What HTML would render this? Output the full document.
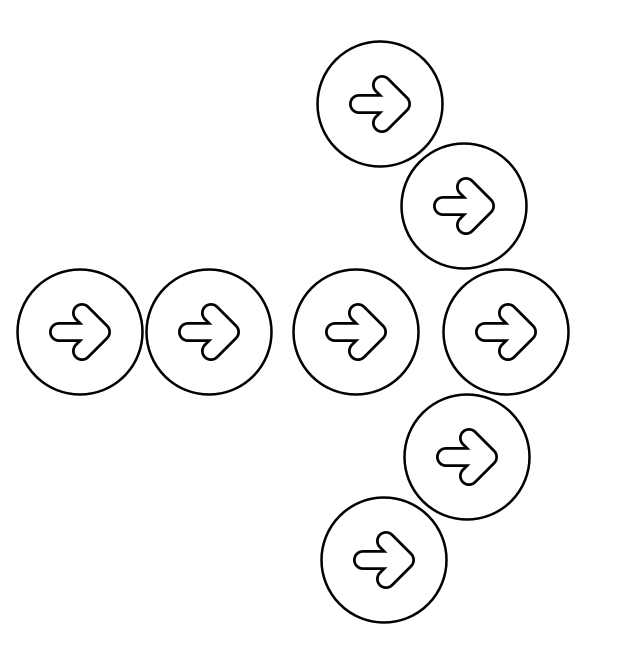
<!DOCTYPE html>
<html><head><style>html,body{margin:0;padding:0;background:#fff;}</style></head>
<body>
<svg width="636" height="662" viewBox="0 0 636 662" xmlns="http://www.w3.org/2000/svg">
<defs>
<g id="c">
<circle cx="0" cy="0" r="62.5" fill="#fff" stroke="#000" stroke-width="2.5"/>
<path d="M-21,0 H16 M2,-19 L21,0 L2,19" fill="none" stroke="#000" stroke-width="20" stroke-linecap="round" stroke-linejoin="round"/>
<path d="M-21,0 H16 M2,-19 L21,0 L2,19" fill="none" stroke="#fff" stroke-width="14.5" stroke-linecap="round" stroke-linejoin="round"/>
</g>
</defs>
<use href="#c" x="80" y="332"/>
<use href="#c" x="209" y="332"/>
<use href="#c" x="356" y="332"/>
<use href="#c" x="506" y="332"/>
<use href="#c" x="380" y="104"/>
<use href="#c" x="464" y="206"/>
<use href="#c" x="467" y="457"/>
<use href="#c" x="384" y="560"/>
</svg>
</body></html>
